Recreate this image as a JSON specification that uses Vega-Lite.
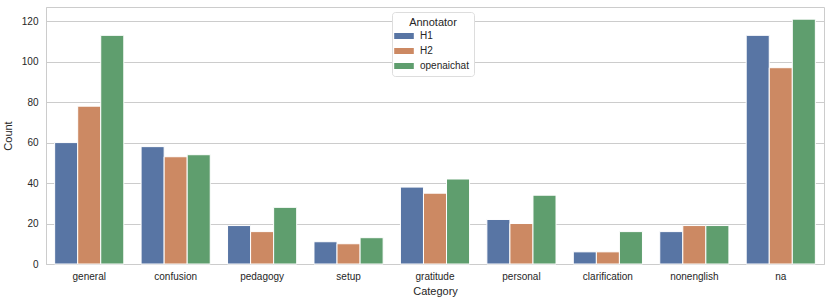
{
  "$schema": "https://vega.github.io/schema/vega-lite/v6.json",
  "width": 778,
  "height": 257,
  "autosize": {"type": "none"},
  "padding": {"left": 46, "top": 7, "right": 7, "bottom": 40},
  "background": "white",
  "config": {
    "font": "Liberation Sans",
    "view": {"stroke": "#cccccc", "strokeWidth": 1},
    "axis": {
      "labelColor": "#262626",
      "titleColor": "#262626",
      "labelFontSize": 10,
      "titleFontSize": 11,
      "titleFontWeight": "normal",
      "domainColor": "#cccccc",
      "gridColor": "#cccccc",
      "ticks": false
    }
  },
  "data": {
    "values": [
      {"Category": "general", "Annotator": "H1", "Count": 60},
      {"Category": "general", "Annotator": "H2", "Count": 78},
      {"Category": "general", "Annotator": "openaichat", "Count": 113},
      {"Category": "confusion", "Annotator": "H1", "Count": 58},
      {"Category": "confusion", "Annotator": "H2", "Count": 53},
      {"Category": "confusion", "Annotator": "openaichat", "Count": 54},
      {"Category": "pedagogy", "Annotator": "H1", "Count": 19},
      {"Category": "pedagogy", "Annotator": "H2", "Count": 16},
      {"Category": "pedagogy", "Annotator": "openaichat", "Count": 28},
      {"Category": "setup", "Annotator": "H1", "Count": 11},
      {"Category": "setup", "Annotator": "H2", "Count": 10},
      {"Category": "setup", "Annotator": "openaichat", "Count": 13},
      {"Category": "gratitude", "Annotator": "H1", "Count": 38},
      {"Category": "gratitude", "Annotator": "H2", "Count": 35},
      {"Category": "gratitude", "Annotator": "openaichat", "Count": 42},
      {"Category": "personal", "Annotator": "H1", "Count": 22},
      {"Category": "personal", "Annotator": "H2", "Count": 20},
      {"Category": "personal", "Annotator": "openaichat", "Count": 34},
      {"Category": "clarification", "Annotator": "H1", "Count": 6},
      {"Category": "clarification", "Annotator": "H2", "Count": 6},
      {"Category": "clarification", "Annotator": "openaichat", "Count": 16},
      {"Category": "nonenglish", "Annotator": "H1", "Count": 16},
      {"Category": "nonenglish", "Annotator": "H2", "Count": 19},
      {"Category": "nonenglish", "Annotator": "openaichat", "Count": 19},
      {"Category": "na", "Annotator": "H1", "Count": 113},
      {"Category": "na", "Annotator": "H2", "Count": 97},
      {"Category": "na", "Annotator": "openaichat", "Count": 121}
    ]
  },
  "mark": {"type": "bar", "stroke": "white", "strokeWidth": 1},
  "encoding": {
    "x": {
      "field": "Category",
      "type": "nominal",
      "sort": ["general", "confusion", "pedagogy", "setup", "gratitude", "personal", "clarification", "nonenglish", "na"],
      "scale": {"paddingInner": 0.2, "paddingOuter": 0.1},
      "axis": {"labelAngle": 0, "labelPadding": 7, "titlePadding": 4, "grid": false}
    },
    "xOffset": {
      "field": "Annotator",
      "type": "nominal",
      "sort": ["H1", "H2", "openaichat"],
      "scale": {"paddingInner": 0, "paddingOuter": 0}
    },
    "y": {
      "field": "Count",
      "type": "quantitative",
      "scale": {"domain": [0, 127], "nice": false, "zero": true},
      "axis": {"values": [0, 20, 40, 60, 80, 100, 120], "labelPadding": 8, "titlePadding": 8, "grid": true}
    },
    "color": {
      "field": "Annotator",
      "type": "nominal",
      "sort": ["H1", "H2", "openaichat"],
      "scale": {"domain": ["H1", "H2", "openaichat"], "range": ["#5875a4", "#cc8963", "#5f9e6e"]},
      "legend": {
        "orient": "none",
        "legendX": 346,
        "legendY": 5,
        "title": "Annotator",
        "titleAnchor": "middle",
        "titleFontSize": 11,
        "titleFontWeight": "normal",
        "titleColor": "#262626",
        "titlePadding": 1,
        "labelFontSize": 10,
        "labelColor": "#262626",
        "labelOffset": 9,
        "symbolType": "M-1.4,-0.43H1.4V0.43H-1.4Z",
        "symbolSize": 196,
        "symbolStrokeWidth": 0,
        "rowPadding": 3,
        "padding": 5,
        "fillColor": "white",
        "strokeColor": "#dddddd",
        "cornerRadius": 3
      }
    }
  }
}
